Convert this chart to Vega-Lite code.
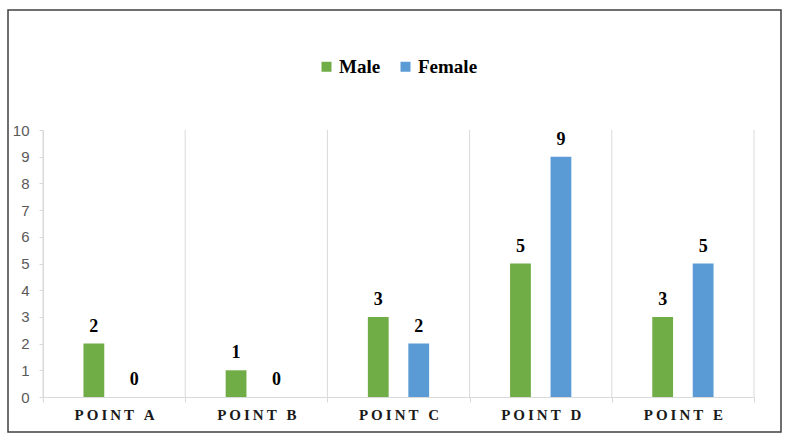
{
  "$schema": "https://vega.github.io/schema/vega-lite/v6.json",
  "width": 773,
  "height": 422,
  "autosize": "none",
  "padding": {"left": 8, "top": 10, "right": 11, "bottom": 11},
  "background": "white",
  "config": {"view": {"stroke": "#404040", "strokeWidth": 1.5}},
  "data": {"values": [
    {"point": "POINT A", "sex": "Male", "value": 2},
    {"point": "POINT A", "sex": "Female", "value": 0},
    {"point": "POINT B", "sex": "Male", "value": 1},
    {"point": "POINT B", "sex": "Female", "value": 0},
    {"point": "POINT C", "sex": "Male", "value": 3},
    {"point": "POINT C", "sex": "Female", "value": 2},
    {"point": "POINT D", "sex": "Male", "value": 5},
    {"point": "POINT D", "sex": "Female", "value": 9},
    {"point": "POINT E", "sex": "Male", "value": 3},
    {"point": "POINT E", "sex": "Female", "value": 5}
  ]},
  "layer": [
    {
      "transform": [{"filter": "datum.sex == 'Male'"}],
      "mark": {"type": "rule", "color": "#D9D9D9", "strokeWidth": 1},
      "encoding": {
        "x": {"field": "point", "type": "nominal", "sort": null, "bandPosition": 0,
              "scale": {"range": [35, 746], "paddingInner": 0, "paddingOuter": 0},
              "axis": {"orient": "bottom", "offset": -35, "title": null, "labelAngle": 0,
                       "tickBand": "extent", "ticks": true, "tickSize": 5, "tickColor": "#D9D9D9",
                       "domainColor": "#D9D9D9", "grid": false,
                       "labelFont": "Liberation Serif", "labelFontWeight": "bold", "labelFontSize": 15,
                       "labelColor": "#1a1a1a", "labelPadding": 5,
                       "labelExpr": "join(split(datum.label,''),'\u2009')"}},
        "y": {"datum": 10, "type": "quantitative",
              "scale": {"domain": [0, 10], "range": [387, 120], "nice": false},
              "axis": {"orient": "left", "offset": -35, "title": null,
                       "values": [0,1,2,3,4,5,6,7,8,9,10], "grid": false,
                       "domainColor": "#D9D9D9", "tickColor": "#D9D9D9", "tickSize": 4,
                       "labelPadding": 10, "labelFont": "Liberation Sans", "labelFontSize": 15,
                       "labelColor": "#595959"}},
        "y2": {"datum": 0}
      }
    },
    {
      "transform": [{"filter": "datum.point == 'POINT E' && datum.sex == 'Male'"}],
      "mark": {"type": "rule", "color": "#D9D9D9", "strokeWidth": 1},
      "encoding": {
        "x": {"field": "point", "type": "nominal", "sort": null, "bandPosition": 1},
        "y": {"datum": 10, "type": "quantitative"},
        "y2": {"datum": 0}
      }
    },
    {
      "mark": {"type": "bar"},
      "encoding": {
        "x": {"field": "point", "type": "nominal", "sort": null},
        "xOffset": {"field": "sex", "type": "nominal", "sort": ["Male", "Female"],
                    "scale": {"paddingInner": 0.486, "paddingOuter": 1.162}},
        "y": {"field": "value", "type": "quantitative"},
        "color": {"field": "sex", "type": "nominal", "sort": ["Male", "Female"],
                  "scale": {"domain": ["Male", "Female"], "range": ["#70AD47", "#5B9BD5"]},
                  "legend": {"orient": "none", "legendX": 309, "legendY": 47, "direction": "horizontal",
                             "title": null, "symbolType": "square", "symbolSize": 100, "symbolStrokeWidth": 0,
                             "labelFont": "Liberation Serif", "labelFontWeight": "bold", "labelFontSize": 19,
                             "labelColor": "black", "labelOffset": 3, "columnPadding": 15, "padding": 0}}
      }
    },
    {
      "mark": {"type": "text", "font": "Liberation Serif", "fontWeight": "bold", "fontSize": 18,
               "color": "black", "baseline": "alphabetic", "dy": -12},
      "encoding": {
        "x": {"field": "point", "type": "nominal", "sort": null},
        "xOffset": {"field": "sex", "type": "nominal", "sort": ["Male", "Female"]},
        "y": {"field": "value", "type": "quantitative"},
        "text": {"field": "value", "type": "quantitative"}
      }
    }
  ]
}
